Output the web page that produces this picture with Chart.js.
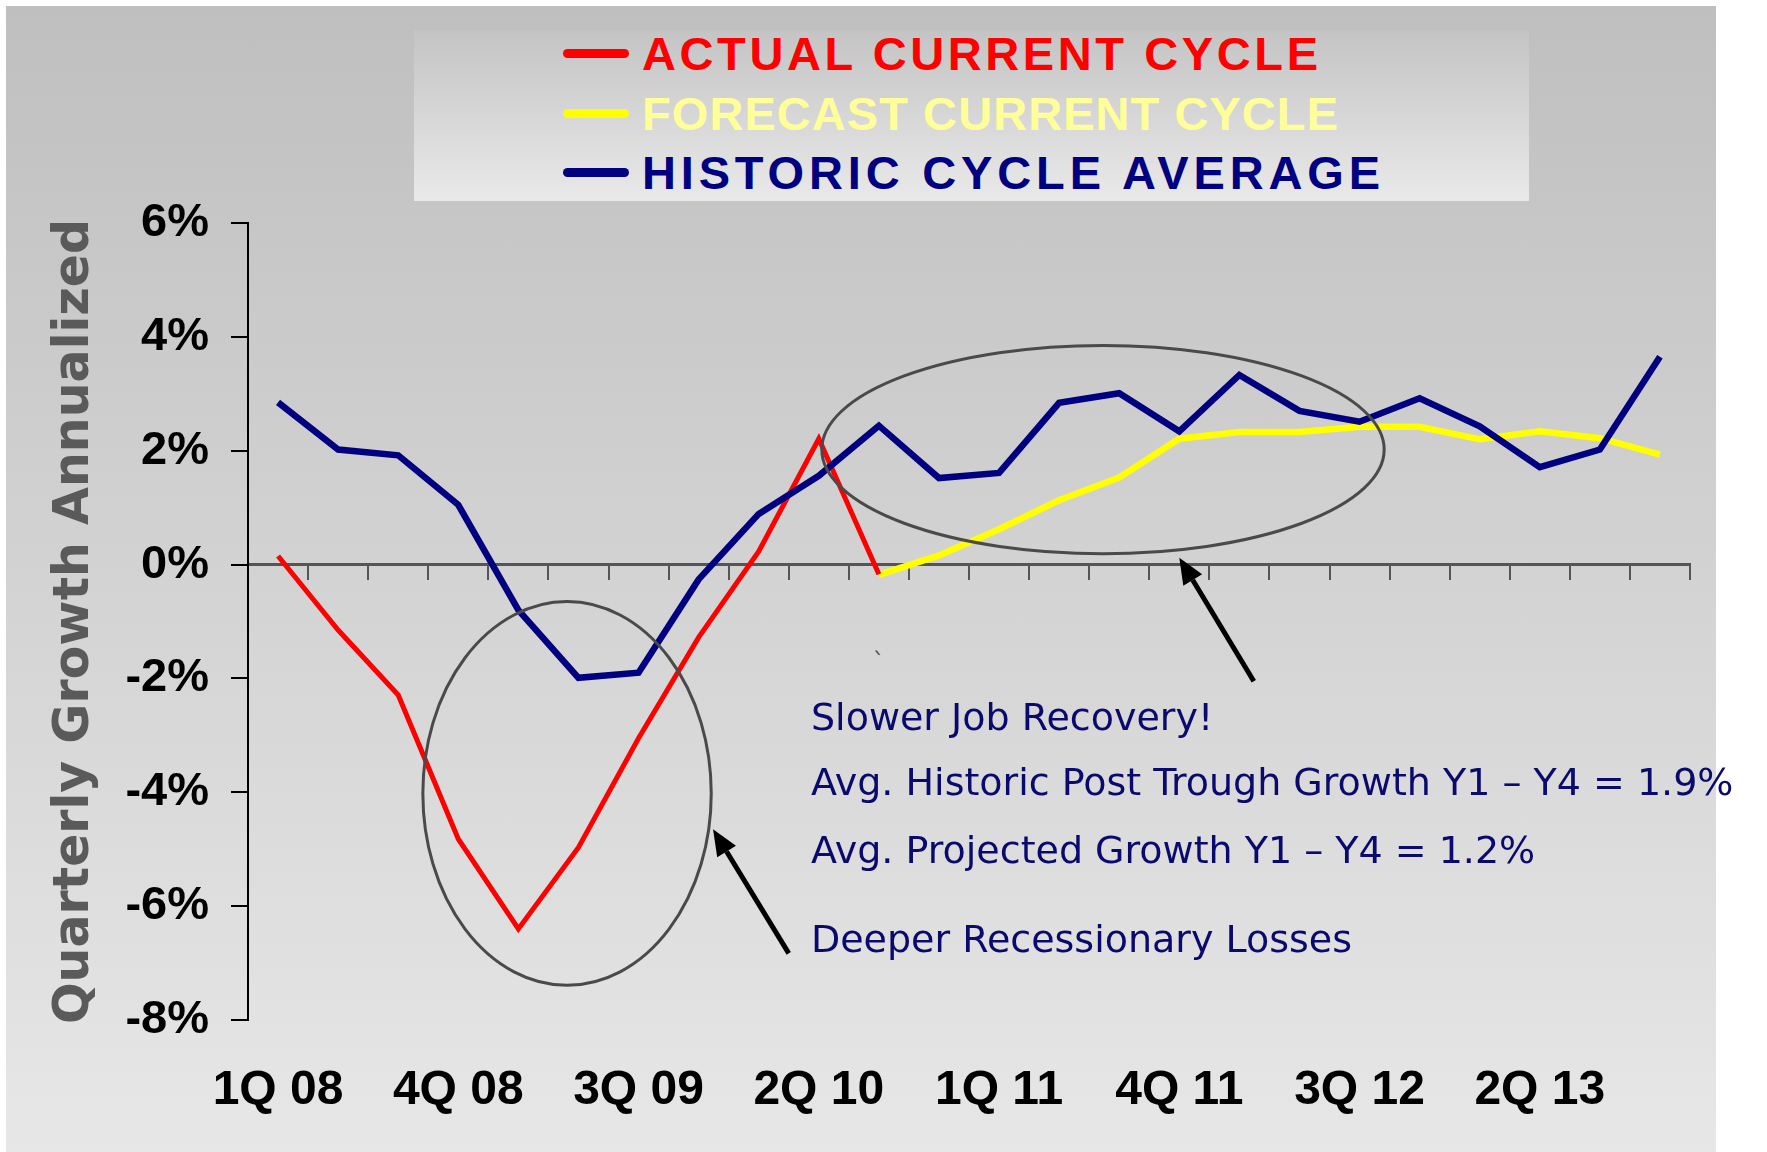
<!DOCTYPE html>
<html lang="en">
<head>
<meta charset="UTF-8">
<title>Quarterly Growth Annualized</title>
<style>
  html, body { margin: 0; padding: 0; background: #fff; }
  #wrap { position: relative; width: 1767px; height: 1152px; overflow: hidden; }
  #panel { position: absolute; left: 6px; top: 6px; width: 1710px; height: 1146px; background: linear-gradient(#bfbfbf, #e7e7e7); }
  #legend { position: absolute; left: 414px; top: 30px; width: 1115px; height: 171px; background: linear-gradient(#c4c4c4, #e9e9e9); }
  .item { position: absolute; left: 149px; height: 60px; display: flex; align-items: center; font: bold 47px "Liberation Sans", Arial, sans-serif; white-space: nowrap; }
  .swatch { width: 66px; height: 9px; border-radius: 5px; margin-right: 13px; }
  canvas { position: absolute; left: 0; top: 0; }
</style>
</head>
<body>
<div id="wrap">
  <div id="panel"></div>
  <div id="legend"></div>
  <canvas id="chart" width="1767" height="1152"></canvas>
</div>
<script src="https://cdn.jsdelivr.net/npm/chart.js"></script>
<script>
// quarters on the x axis
const quarters = ['1Q 08','2Q 08','3Q 08','4Q 08','1Q 09','2Q 09','3Q 09','4Q 09',
                  '1Q 10','2Q 10','3Q 10','4Q 10','1Q 11','2Q 11','3Q 11','4Q 11',
                  '1Q 12','2Q 12','3Q 12','4Q 12','1Q 13','2Q 13','3Q 13','4Q 13'];

// growth values, % annualized
const actualCycle   = [0.15, -1.15, -2.29, -4.82, -6.40, -4.97, -3.05, -1.28, 0.23, 2.21, -0.17,
                       null, null, null, null, null, null, null, null, null, null, null, null, null];
const forecastCycle = [null, null, null, null, null, null, null, null, null, null,
                       -0.18, 0.16, 0.62, 1.13, 1.53, 2.21, 2.33, 2.33, 2.42, 2.42, 2.20, 2.34, 2.22, 1.93];
const historicCycle = [2.85, 2.02, 1.92, 1.05, -0.80, -1.99, -1.90, -0.26, 0.89, 1.56, 2.44, 1.52,
                       1.61, 2.84, 3.01, 2.34, 3.33, 2.70, 2.51, 2.92, 2.43, 1.71, 2.02, 3.65];

const seriesNames  = ['ACTUAL CURRENT CYCLE', 'FORECAST CURRENT CYCLE', 'HISTORIC CYCLE AVERAGE'];
const seriesColors = ['#ff0000', '#ffff00', '#000080'];
const legendText   = ['#ff0000', '#ffff99', '#000080'];

// y axis ticks
const yMin = -8, yMax = 6, yStep = 2;

// notes drawn on the chart (x = quarter index, y = %)
const notes = [
  { text: 'Slower Job Recovery!', x: 8.87, y: -2.73 },
  { text: 'Avg. Historic Post Trough Growth Y1 \u2013 Y4 = 1.9%', x: 8.87, y: -3.87 },
  { text: 'Avg. Projected Growth Y1 \u2013 Y4 = 1.2%', x: 8.87, y: -5.06 },
  { text: 'Deeper Recessionary Losses', x: 8.87, y: -6.64 }
];
const ellipses = [
  { cx: 4.81, cy: -4.02, rx: 2.40, ry: 3.37 },
  { cx: 13.73, cy: 2.02, rx: 4.68, ry: 1.83 }
];
const arrows = [
  { x1: 8.50, y1: -6.83, x2: 7.24, y2: -4.65 },
  { x1: 16.24, y1: -2.05, x2: 15.0, y2: 0.12 }
];

// legend built as html, each label stretched to the width it has in the original
const legendWidths = [676, 696, 738];
const legend = document.getElementById('legend');
seriesNames.forEach((name, i) => {
  const row = document.createElement('div');
  row.className = 'item';
  row.style.top = [-7, 53, 112][i] + 'px';
  row.innerHTML = '<span class="swatch" style="background:' + seriesColors[i] + '"></span>' +
                  '<span style="color:' + legendText[i] + '">' + name + '</span>';
  legend.appendChild(row);
  const label = row.lastChild;
  const w = label.getBoundingClientRect().width;
  label.style.letterSpacing = ((legendWidths[i] - w) / (name.length - 1)) + 'px';
});

const notesPlugin = {
  id: 'notes',
  afterDatasetsDraw(chart) {
    const ctx = chart.ctx;
    const x = chart.scales.x, y = chart.scales.y;
    ctx.save();
    ctx.strokeStyle = '#4a4a4a';
    ctx.lineWidth = 3;
    ellipses.forEach(e => {
      const cx = x.getPixelForValue(e.cx), cy = y.getPixelForValue(e.cy);
      const rx = x.getPixelForValue(e.cx + e.rx) - cx;
      const ry = y.getPixelForValue(e.cy - e.ry) - cy;
      ctx.beginPath();
      ctx.ellipse(cx, cy, rx, ry, 0, 0, Math.PI * 2);
      ctx.stroke();
    });
    ctx.strokeStyle = '#000';
    ctx.fillStyle = '#000';
    ctx.lineWidth = 5;
    arrows.forEach(a => {
      const x1 = x.getPixelForValue(a.x1), y1 = y.getPixelForValue(a.y1);
      const x2 = x.getPixelForValue(a.x2), y2 = y.getPixelForValue(a.y2);
      const ang = Math.atan2(y2 - y1, x2 - x1);
      const hl = 26, hw = 11;
      const bx = x2 - hl * Math.cos(ang), by = y2 - hl * Math.sin(ang);
      ctx.beginPath();
      ctx.moveTo(x1, y1);
      ctx.lineTo(bx, by);
      ctx.stroke();
      ctx.beginPath();
      ctx.moveTo(x2, y2);
      ctx.lineTo(bx + hw * Math.sin(ang), by - hw * Math.cos(ang));
      ctx.lineTo(bx - hw * Math.sin(ang), by + hw * Math.cos(ang));
      ctx.closePath();
      ctx.fill();
    });
    ctx.fillStyle = '#0a0a6e';
    ctx.font = '38px "DejaVu Sans", Verdana, sans-serif';
    ctx.textAlign = 'left';
    ctx.textBaseline = 'middle';
    notes.forEach(n => ctx.fillText(n.text, x.getPixelForValue(n.x), y.getPixelForValue(n.y)));
    ctx.fillStyle = '#555';
    ctx.font = '24px "DejaVu Sans", sans-serif';
    ctx.fillText('`', x.getPixelForValue(9.9), y.getPixelForValue(-1.74));
    ctx.restore();
  }
};

new Chart(document.getElementById('chart'), {
  type: 'line',
  data: {
    labels: quarters,
    datasets: [
      { label: seriesNames[2], data: historicCycle, borderColor: seriesColors[2], borderWidth: 6.5 },
      { label: seriesNames[0], data: actualCycle, borderColor: seriesColors[0], borderWidth: 5 },
      { label: seriesNames[1], data: forecastCycle, borderColor: seriesColors[1], borderWidth: 6.5 }
    ]
  },
  options: {
    responsive: false,
    animation: false,
    devicePixelRatio: 1,
    elements: { point: { radius: 0 }, line: { tension: 0, borderJoinStyle: 'miter', borderCapStyle: 'butt' } },
    layout: { padding: { left: 0, top: 223, right: 77, bottom: 0 } },
    plugins: { legend: { display: false }, tooltip: { enabled: false } },
    scales: {
      x: {
        type: 'category',
        position: { y: 0 },
        offset: true,
        grid: { display: true, drawOnChartArea: false, drawTicks: true, tickLength: 14, color: '#555', lineWidth: 2, offset: true },
        border: { display: true, color: '#555', width: 3 },
        ticks: { display: false }
      },
      x2: {
        type: 'category',
        position: 'bottom',
        offset: true,
        grid: { display: false, drawTicks: false },
        border: { display: false },
        afterFit: s => { s.height = 132; },
        ticks: {
          autoSkip: false,
          maxRotation: 0,
          padding: 42,
          color: '#000',
          font: { family: '"Liberation Sans", Arial, sans-serif', size: 48, weight: 'bold' },
          callback: (v, i) => (i % 3 === 0 ? quarters[i] : '')
        }
      },
      y: {
        min: yMin,
        max: yMax,
        afterFit: s => { s.width = 248; },
        grid: { drawOnChartArea: false, drawTicks: true, tickLength: 17, color: '#000', lineWidth: 2 },
        border: { display: true, color: '#000', width: 2 },
        ticks: {
          stepSize: yStep,
          padding: 22,
          color: '#000',
          font: { family: '"Liberation Sans", Arial, sans-serif', size: 47, weight: 'bold' },
          callback: v => v + '%'
        },
        title: {
          display: true,
          text: 'Quarterly Growth Annualized',
          color: '#5a5a5a',
          padding: { top: 46, bottom: 0 },
          font: { family: '"DejaVu Sans", Verdana, sans-serif', size: 49, weight: 'bold' }
        }
      }
    }
  },
  plugins: [notesPlugin]
});
</script>
</body>
</html>
